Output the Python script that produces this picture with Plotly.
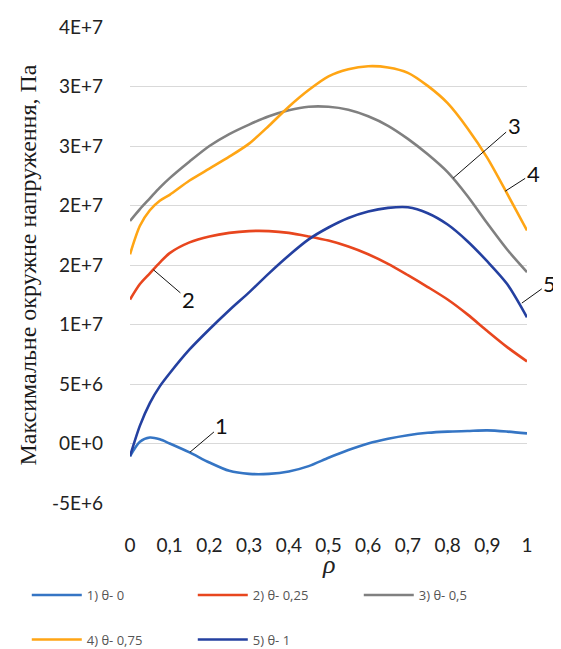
import plotly.graph_objects as go

# ---- data (values in millions of Pa) ----
rho = [0, 0.025, 0.05, 0.075, 0.1, 0.15, 0.2, 0.25, 0.3, 0.35, 0.4, 0.45,
       0.5, 0.55, 0.6, 0.65, 0.7, 0.75, 0.8, 0.85, 0.9, 0.95, 1.0]

theta_0 = [-1.07, 0.15, 0.5, 0.35, 0.0, -0.75, -1.6, -2.3, -2.55, -2.55, -2.35, -1.9,
           -1.2, -0.55, 0.0, 0.4, 0.7, 0.9, 1.0, 1.05, 1.1, 1.0, 0.85]
theta_025 = [12.1, 13.4, 14.3, 15.2, 16.0, 16.9, 17.4, 17.7, 17.85, 17.85, 17.7, 17.4,
             17.05, 16.55, 15.9, 15.1, 14.15, 13.15, 12.1, 10.85, 9.45, 8.1, 6.9]
theta_05 = [18.7, 19.7, 20.6, 21.5, 22.3, 23.7, 25.0, 26.0, 26.8, 27.5, 28.0, 28.3,
            28.3, 28.05, 27.5, 26.7, 25.6, 24.3, 22.8, 20.8, 18.5, 16.3, 14.4]
theta_075 = [15.9, 18.3, 19.6, 20.4, 20.9, 22.1, 23.1, 24.1, 25.2, 26.7, 28.3, 29.7,
             30.85, 31.45, 31.7, 31.6, 31.15, 30.05, 28.6, 26.5, 24.0, 21.0, 17.9]
theta_1 = [-1.07, 1.5, 3.4, 4.8, 5.9, 7.9, 9.6, 11.2, 12.7, 14.3, 15.8, 17.15,
           18.15, 18.95, 19.5, 19.8, 19.85, 19.35, 18.4, 17.0, 15.3, 13.4, 10.6]

series_names = ["1) θ- 0", "2) θ- 0,25", "3) θ- 0,5", "4) θ- 0,75", "5) θ- 1"]
series_values = [theta_0, theta_025, theta_05, theta_075, theta_1]
series_colors = ["#3575C4", "#E8461E", "#808080", "#FFA514", "#2440A0"]
series_legend = ["legend", "legend", "legend", "legend2", "legend2"]

y_tickvals = [-5e6, 0, 5e6, 10e6, 15e6, 20e6, 25e6, 30e6, 35e6]
y_ticktext = ["-5E+6", "0E+0", "5E+6", "1E+7", "2E+7", "2E+7", "3E+7", "3E+7", "4E+7"]
x_tickvals = [0, 0.1, 0.2, 0.3, 0.4, 0.5, 0.6, 0.7, 0.8, 0.9, 1]
x_ticktext = ["0", "0,1", "0,2", "0,3", "0,4", "0,5", "0,6", "0,7", "0,8", "0,9", "1"]

# curve labels: text, anchor rho, anchor value (millions), offset px
label_text = ["1", "2", "3", "4", "5"]
label_rho = [0.151, 0.059, 0.814, 0.945, 0.987]
label_val = [-0.73, 14.6, 22.3, 21.2, 11.8]
label_ax = [32, 35, 61, 28, 28]
label_ay = [-27, 30, -53, -18, -20]

fig = go.Figure()
for name, vals, col, lg in zip(series_names, series_values, series_colors, series_legend):
    fig.add_trace(go.Scatter(
        x=rho, y=[v * 1e6 for v in vals], mode="lines", name=name,
        line=dict(color=col, width=2.6, shape="spline", smoothing=0.8),
        legend=lg,
    ))

for t, xr, yv, ax, ay in zip(label_text, label_rho, label_val, label_ax, label_ay):
    fig.add_annotation(x=xr, y=yv * 1e6, text=t, showarrow=True, arrowhead=0,
                       arrowwidth=1, arrowcolor="#111111", ax=ax, ay=ay,
                       font=dict(family="Lato", size=22, color="#111111"))

# x-axis title as text below tick labels
fig.add_annotation(x=0.5, y=-0.13, xref="paper", yref="paper", text="<i>ρ</i>",
                   showarrow=False, yanchor="middle",
                   font=dict(family="Liberation Serif", size=26, color="#222222"))

legend_common = dict(orientation="h", xanchor="left", yanchor="middle",
                     xref="paper", yref="paper",
                     entrywidth=101, entrywidthmode="pixels", itemwidth=50,
                     font=dict(family="Open Sans", size=13, color="#555555"),
                     bgcolor="rgba(0,0,0,0)")

fig.update_layout(
    width=553, height=641,
    margin=dict(l=122, r=34, t=19, b=146, autoexpand=False),
    paper_bgcolor="white", plot_bgcolor="white",
    font=dict(family="Lato", color="#222222"),
    legend=dict(x=-0.26, y=-0.1933, **legend_common),
    legend2=dict(x=-0.26, y=-0.287, **legend_common),
    showlegend=True,
)
fig.update_xaxes(range=[0, 1], tickvals=x_tickvals, ticktext=x_ticktext,
                 showgrid=False, zeroline=False, showline=False, ticks="",
                 ticklabelstandoff=29,
                 tickfont=dict(family="Lato", size=19, color="#222222"))
fig.update_yaxes(range=[-5e6, 35e6], tickvals=y_tickvals, ticktext=y_ticktext,
                 showgrid=True, gridcolor="#D9D9D9", gridwidth=1.3,
                 zeroline=False, showline=False, ticks="",
                 ticklabelstandoff=26,
                 tickfont=dict(family="Lato", size=19, color="#222222"),
                 title=dict(text="Максимальне окружне напруження, Па", standoff=8,
                            font=dict(family="Liberation Serif", size=24, color="#1a1a1a")))

fig.write_html("out.html")
